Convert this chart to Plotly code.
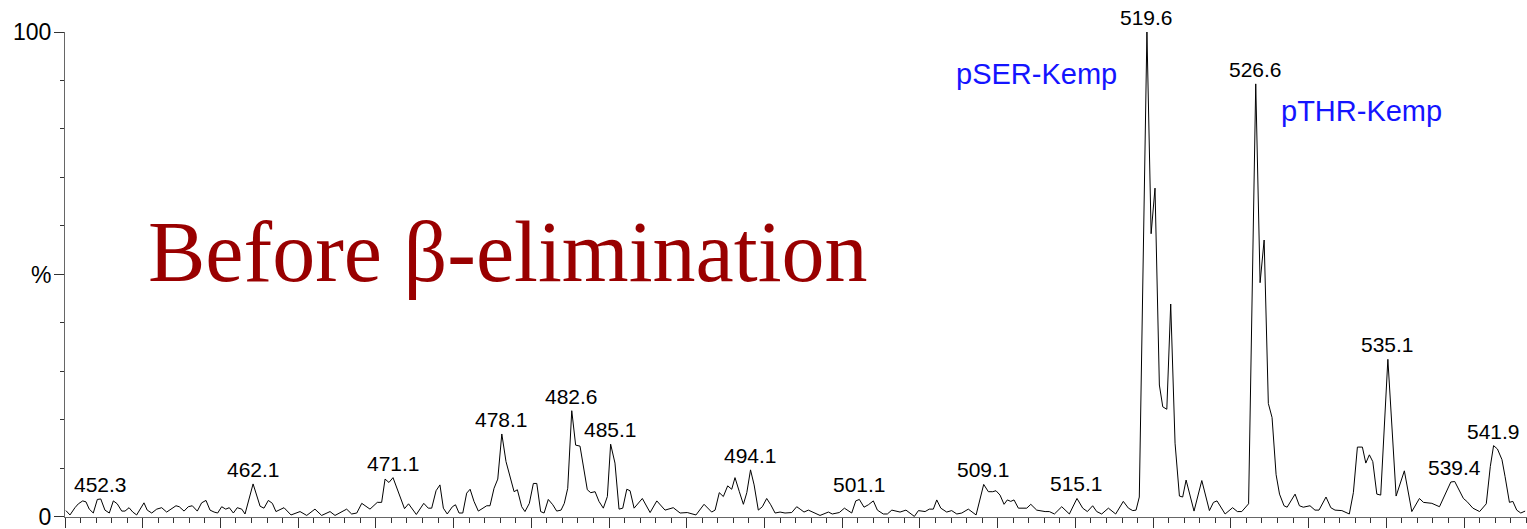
import plotly.graph_objects as go

# Spectrum vertices: m/z and relative intensity (%)
mz = [
    450.06, 450.32, 450.64, 450.86, 451.14, 451.35, 451.56, 451.82, 452.08, 452.3,
    452.57, 452.85, 453.11, 453.36, 453.65, 453.86, 454.12, 454.36, 454.61, 455.08,
    455.29, 455.58, 455.90, 456.22, 456.54, 456.86, 457.14, 457.35, 457.66, 457.93,
    458.19, 458.51, 458.79, 459.07, 459.33, 459.59, 459.82, 460.08, 460.34, 460.57,
    460.83, 461.08, 461.37, 461.58, 462.1, 462.55, 462.80, 463.08, 463.34, 463.57,
    464.09, 464.54, 465.12, 465.55, 466.08, 466.51, 467.05, 467.37, 468.12, 468.44,
    468.77, 469.09, 469.62, 470.09, 470.37, 470.59, 470.84, 471.1, 471.44, 471.84,
    472.10, 472.60, 473.08, 473.37, 473.59, 473.87, 474.12, 474.34, 474.59, 474.92,
    475.12, 475.35, 475.59, 475.84, 476.06, 476.31, 476.59, 476.91, 477.13, 477.34,
    477.60, 477.84, 478.1, 478.37, 478.63, 478.89, 479.10, 479.38, 479.59, 479.87,
    480.13, 480.35, 480.60, 480.82, 481.09, 481.38, 481.63, 481.91, 482.12, 482.34,
    482.6, 482.85, 483.13, 483.39, 483.60, 483.82, 484.10, 484.35, 484.63, 484.89,
    485.1, 485.38, 485.64, 485.88, 486.14, 486.35, 486.61, 487.14, 487.64, 488.07,
    488.60, 489.13, 489.57, 490.03, 490.59, 491.11, 491.60, 491.82, 492.09, 492.35,
    492.63, 492.89, 493.10, 493.38, 493.64, 493.86, 494.1, 494.33, 494.60, 494.86,
    495.14, 495.40, 495.68, 496.00, 496.32, 496.75, 497.07, 497.29, 497.54, 497.82,
    498.19, 498.57, 499.11, 499.36, 499.81, 500.14, 500.61, 500.87, 501.1, 501.40,
    501.68, 502.00, 502.26, 502.64, 502.90, 503.19, 503.72, 504.10, 504.64, 504.90,
    505.33, 505.60, 505.86, 506.08, 506.34, 506.72, 507.04, 507.37, 507.69, 508.11,
    508.61, 509.1, 509.40, 509.68, 509.89, 510.15, 510.41, 510.62, 510.84, 511.05,
    511.33, 511.87, 512.13, 512.51, 513.05, 513.32, 513.65, 514.12, 514.61, 515.1,
    515.47, 515.77, 516.11, 516.37, 516.69, 517.12, 517.59, 518.08, 518.41, 518.69,
    518.90, 519.11, 519.6, 519.87, 520.12, 520.40, 520.62, 520.88, 521.13, 521.41,
    521.69, 521.90, 522.12, 522.63, 523.13, 523.62, 523.88, 524.11, 524.63, 525.11,
    525.42, 525.70, 526.14, 526.6, 526.88, 527.14, 527.41, 527.65, 527.91, 528.13,
    528.42, 528.62, 529.13, 529.41, 529.66, 530.09, 530.41, 530.67, 531.12, 531.43,
    531.70, 532.14, 532.62, 532.88, 533.14, 533.46, 533.68, 533.91, 534.13, 534.39,
    534.64, 535.1, 535.63, 536.16, 536.64, 537.13, 537.39, 537.93, 538.42, 538.90,
    539.15, 539.4, 539.96, 540.18, 540.57, 541.00, 541.43, 541.69, 541.9, 542.15,
    542.44, 542.64, 542.92, 543.14, 543.39, 543.65, 543.93,
]
intensity = [
    1.3, 0.4, 1.9, 2.7, 3.3, 3.1, 1.6, 0.8, 3.6, 3.7,
    1.4, 0.8, 3.3, 2.7, 1.2, 1.2, 1.9, 1.0, 0.4, 2.9,
    1.4, 0.8, 1.6, 1.9, 1.0, 1.6, 2.3, 2.1, 1.2, 2.1,
    2.3, 1.2, 2.9, 3.4, 1.4, 1.0, 0.8, 2.1, 1.6, 1.9,
    0.8, 1.9, 1.6, 0.6, 6.8, 2.2, 1.8, 3.4, 2.8, 1.1,
    1.9, 0.4, 1.1, 0.3, 1.6, 0.3, 1.1, 0.3, 1.6, 0.6,
    0.8, 2.8, 1.6, 3.0, 3.0, 7.8, 7.1, 8.1, 5.2, 1.7,
    2.7, 0.5, 2.8, 1.8, 1.8, 5.4, 6.6, 1.8, 0.6, 2.1,
    2.5, 0.8, 0.8, 4.9, 5.7, 3.2, 1.2, 1.8, 2.3, 2.3,
    5.9, 7.8, 17.1, 11.4, 8.3, 5.2, 5.6, 2.1, 1.1, 2.8,
    6.9, 6.9, 1.1, 0.8, 3.6, 2.5, 1.2, 1.4, 2.8, 5.9,
    21.9, 14.8, 14.6, 9.3, 5.6, 5.0, 5.2, 3.2, 1.8, 4.2,
    15.0, 11.1, 1.6, 1.8, 5.7, 5.4, 1.8, 3.8, 0.9, 3.3,
    1.4, 1.9, 0.8, 0.9, 0.4, 2.6, 1.0, 1.4, 5.0, 4.2,
    6.4, 5.7, 8.1, 5.2, 2.6, 5.0, 9.7, 6.6, 1.4, 2.1,
    3.8, 2.5, 0.8, 1.0, 0.8, 0.9, 2.1, 1.6, 1.0, 1.4,
    0.8, 0.3, 1.0, 0.6, 0.9, 1.8, 0.8, 3.3, 3.6, 2.0,
    2.5, 3.3, 1.4, 0.6, 0.6, 1.4, 1.0, 1.4, 0.1, 1.3,
    1.1, 1.6, 1.6, 3.5, 1.8, 1.0, 1.3, 0.6, 0.8, 1.6,
    0.4, 6.7, 5.2, 5.2, 5.4, 4.5, 2.6, 3.5, 3.2, 3.5,
    1.8, 1.8, 2.6, 1.4, 1.1, 1.1, 0.6, 2.1, 0.6, 3.8,
    1.8, 1.1, 2.3, 1.1, 0.6, 1.8, 0.6, 3.2, 1.8, 1.3,
    1.4, 4.1, 100.0, 58.4, 67.8, 27.2, 22.7, 22.2, 43.9, 15.2,
    4.3, 4.1, 7.6, 1.2, 7.5, 1.3, 3.0, 3.3, 0.6, 1.9,
    1.1, 1.1, 2.7, 89.3, 48.3, 57.1, 23.4, 20.5, 8.7, 4.7,
    2.3, 2.0, 4.7, 2.3, 2.0, 2.3, 1.4, 1.4, 4.1, 1.9,
    1.4, 1.3, 0.6, 5.0, 14.4, 14.4, 11.1, 12.8, 11.4, 4.7,
    4.5, 32.5, 4.3, 9.5, 1.1, 3.8, 3.0, 2.8, 2.1, 5.6,
    7.2, 7.3, 3.8, 3.2, 1.8, 1.1, 2.7, 10.4, 14.7, 14.0,
    11.8, 8.3, 3.0, 3.2, 1.4, 0.8, 1.2,
]

# Labelled peaks (m/z)
peak_labels = [452.3, 462.1, 471.1, 478.1, 482.6, 485.1, 494.1, 501.1,
               509.1, 515.1, 519.6, 526.6, 535.1, 539.4, 541.9]

y_tick_vals = [0, 50, 100]
y_tick_text = ["0", "%", "100"]

title_text = "Before β-elimination"
ser_text = "pSER-Kemp"
thr_text = "pTHR-Kemp"

SANS = "Arial, Liberation Sans, sans-serif"

fig = go.Figure()
fig.add_trace(go.Scatter(
    x=mz, y=intensity, mode="lines",
    line=dict(color="black", width=1),
    hoverinfo="skip", showlegend=False,
))

annotations = []
for p in peak_labels:
    i = min(range(len(mz)), key=lambda k: abs(mz[k] - p))
    annotations.append(dict(
        x=p, y=intensity[i], xref="x", yref="y",
        text=f"{p:.1f}", showarrow=False,
        xanchor="center", yanchor="bottom", yshift=1,
        font=dict(family=SANS, size=21, color="black"),
    ))

annotations.append(dict(
    x=512.47, y=91.3, xref="x", yref="y", text=ser_text, showarrow=False,
    xanchor="center", yanchor="middle",
    font=dict(family=SANS, size=29, color="#1414ff"),
))
annotations.append(dict(
    x=533.38, y=83.7, xref="x", yref="y", text=thr_text, showarrow=False,
    xanchor="center", yanchor="middle",
    font=dict(family=SANS, size=29, color="#1414ff"),
))
annotations.append(dict(
    x=478.5, y=54.6, xref="x", yref="y", text=title_text, showarrow=False,
    xanchor="center", yanchor="middle",
    font=dict(family="Times New Roman, Liberation Serif, serif", size=86, color="#990000"),
))

fig.update_layout(
    width=1527, height=529,
    margin=dict(l=65, r=0, t=32, b=12),
    paper_bgcolor="white", plot_bgcolor="white",
    annotations=annotations,
    xaxis=dict(
        range=[450, 544.05], showgrid=False, zeroline=False,
        showline=True, linecolor="#666", linewidth=1,
        ticks="outside", ticklen=10, tickcolor="#333", tickwidth=1,
        tick0=450, dtick=5, showticklabels=False,
        minor=dict(ticks="outside", ticklen=5, tickcolor="#333", dtick=1, tick0=450, showgrid=False),
    ),
    yaxis=dict(
        range=[-0.02, 100], showgrid=False, zeroline=False,
        showline=True, linecolor="#666", linewidth=1,
        ticks="outside", ticklen=10, tickcolor="#333", tickwidth=1,
        tickmode="array", tickvals=y_tick_vals, ticktext=y_tick_text,
        tickfont=dict(family=SANS, size=23, color="black"),
        ticklabelstandoff=-2,
        ticklabeloverflow="allow",
        automargin=False,
        minor=dict(ticks="outside", ticklen=4, tickcolor="#333", dtick=10, tick0=0, showgrid=False),
    ),
)

fig.write_html("out.html")
